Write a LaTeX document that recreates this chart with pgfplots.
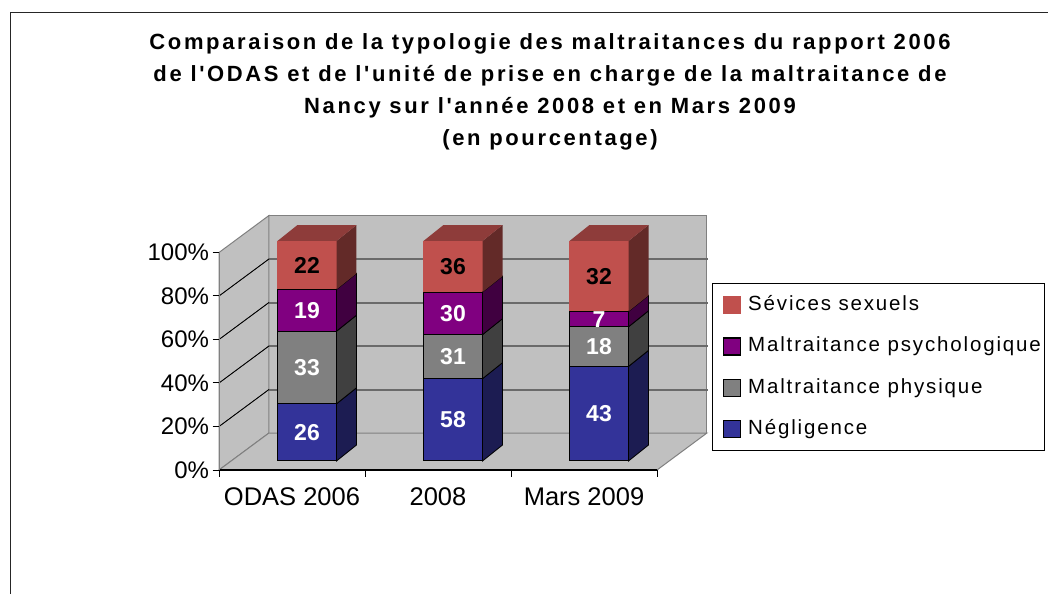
\documentclass[border=0pt]{standalone}
\usepackage{fontspec}
\usepackage{pgfplots}
\pgfplotsset{compat=1.18}
\newfontfamily\lsans{Liberation Sans}
\newfontfamily\lsanstitle{Liberation Sans}[LetterSpace=12]
\newfontfamily\lsansleg{Liberation Sans}[LetterSpace=9]
\definecolor{negF}{HTML}{333399}
\definecolor{negS}{HTML}{1C1C52}
\definecolor{phyF}{HTML}{808080}
\definecolor{phyS}{HTML}{404040}
\definecolor{psyF}{HTML}{800080}
\definecolor{psyS}{HTML}{400040}
\definecolor{sexF}{HTML}{C0504D}
\definecolor{sexS}{HTML}{632A28}
\definecolor{sexT}{HTML}{8E3C3A}
\definecolor{wall}{HTML}{C0C0C0}
\definecolor{wallline}{HTML}{808080}
\definecolor{gridc}{HTML}{6A6A6A}
\pgfplotsset{
  face/.style={forget plot, line width=0.8pt},
  gline/.style={forget plot, fill=gridc, draw=gridc, line width=0.6pt},
  dline/.style={forget plot, fill=black, draw=black, line width=0.5pt},
}
\begin{document}
\begin{tikzpicture}
\path[use as bounding box] (0pt,0pt) rectangle (1048pt,594pt);
\draw[line width=1.3pt, black!85] (10.5pt,0pt) -- (10.5pt,581.5pt) -- (1048pt,581.5pt);
\node[align=center, font=\lsanstitle\bfseries\fontsize{22}{32}\selectfont] at (550pt,502pt)
  {Comparaison de la typologie des maltraitances du rapport 2006\\
   de l'ODAS et de l'unité de prise en charge de la maltraitance de\\
   Nancy sur l'année 2008 et en Mars 2009\\
   (en pourcentage)};

% ---- axis A: walls and floor, wall lines
\begin{axis}[at={(219pt,124pt)}, anchor=south west, scale only axis,
  width=438pt, height=217.5pt,
  xmin=-0.5, xmax=2.5, ymin=0, ymax=100, clip=false, hide axis]
\addplot[fill=wall, draw=wallline, line width=1pt, forget plot] coordinates {(-0.158,17) (2.842,17) (2.842,117) (-0.158,117)} -- cycle;
\addplot[fill=wall, draw=wallline, line width=1pt, forget plot] coordinates {(-0.5,0) (-0.158,17) (-0.158,117) (-0.5,100)} -- cycle;
\addplot[fill=wall, draw=wallline, line width=1pt, forget plot] coordinates {(-0.5,0) (2.5,0) (2.842,17) (-0.158,17)} -- cycle;
% back-wall gridlines
\addplot[gline] coordinates {(-0.158,36.85) (2.842,36.85) (2.842,37.15) (-0.158,37.15)} -- cycle;
\addplot[gline] coordinates {(-0.158,56.85) (2.842,56.85) (2.842,57.15) (-0.158,57.15)} -- cycle;
\addplot[gline] coordinates {(-0.158,76.85) (2.842,76.85) (2.842,77.15) (-0.158,77.15)} -- cycle;
\addplot[gline] coordinates {(-0.158,96.85) (2.842,96.85) (2.842,97.15) (-0.158,97.15)} -- cycle;
% side-wall lines
\addplot[dline] coordinates {(-0.5,19.9) (-0.158,36.9) (-0.158,37.1) (-0.5,20.1)} -- cycle;
\addplot[dline] coordinates {(-0.5,39.9) (-0.158,56.9) (-0.158,57.1) (-0.5,40.1)} -- cycle;
\addplot[dline] coordinates {(-0.5,59.9) (-0.158,76.9) (-0.158,77.1) (-0.5,60.1)} -- cycle;
\addplot[dline] coordinates {(-0.5,79.9) (-0.158,96.9) (-0.158,97.1) (-0.5,80.1)} -- cycle;
\end{axis}

% ---- axis A2: axis lines, ticks
\begin{axis}[at={(219pt,124pt)}, anchor=south west, scale only axis,
  width=438pt, height=217.5pt,
  xmin=-0.5, xmax=2.5, ymin=0, ymax=100, clip=false,
  axis x line*=bottom, axis y line*=left,
  x axis line style={black, line width=1.3pt},
  y axis line style={wallline, line width=1pt},
  tick align=outside, major tick length=6.5pt,
  tick style={black, line width=1pt},
  xtick={-0.5,0.5,1.5,2.5},
  xticklabels={ODAS 2006,2008,Mars 2009,},
  x tick label style={font=\lsans\fontsize{25.5}{25.5}\selectfont, xshift=73pt, yshift=-8pt},
  ytick={0,20,...,100},
  yticklabel={\pgfmathprintnumber{\tick}\%},
  y tick label style={font=\lsans\fontsize{24}{24}\selectfont},
  /pgf/number format/assume math mode=true,
]
\end{axis}

% ---- axis B: stacked bar fronts + legend
\begin{axis}[at={(234pt,133pt)}, anchor=south west, scale only axis,
  width=438pt, height=220pt,
  xmin=-0.5, xmax=2.5, ymin=0, ymax=100, clip=false, hide axis,
  ybar stacked, bar width=59pt,
  reverse legend,
  legend cell align=left,
  legend image code/.code={
    \path[draw=none, fill=none] (0pt,0pt) -- (24pt,0pt);
    \draw[#1, line width=1.4pt] (7pt,-8.5pt) rectangle (24pt,8.5pt);
  },
  legend style={at={(1.0913,0.8091)}, anchor=north west,
    draw=black, line width=1pt, fill=white,
    inner xsep=4pt, inner ysep=12pt,
    row sep=21.8pt, column sep=7pt,
    nodes={inner sep=0pt, text height=15pt, text depth=4.5pt},
    font=\lsansleg\fontsize{20.5}{20.5}\selectfont},
]
\addplot[fill=negF, draw=black, line width=1pt] coordinates {(0,26) (1,37.42) (2,43)};
\addlegendentry{Négligence}
\addplot[fill=phyF, draw=black, line width=1pt] coordinates {(0,33) (1,20.00) (2,18)};
\addlegendentry{Maltraitance physique}
\addplot[fill=psyF, draw=black, line width=1pt] coordinates {(0,19) (1,19.35) (2,7)};
\addlegendentry{Maltraitance psychologique}
\addplot[fill=sexF, draw=sexF, line width=0.5pt] coordinates {(0,22) (1,23.23) (2,32)};
\addlegendentry{Sévices sexuels}
\end{axis}

% ---- axis C: side/top faces and value labels
\begin{axis}[at={(234pt,133pt)}, anchor=south west, scale only axis,
  width=438pt, height=220pt,
  xmin=-0.5, xmax=2.5, ymin=0, ymax=100, clip=false, hide axis]
% ODAS 2006
\addplot[face, fill=negS, draw=black] coordinates {(0.2021,0) (0.339,7.27) (0.339,33.27) (0.2021,26)} -- cycle;
\addplot[face, fill=phyS, draw=black] coordinates {(0.2021,26) (0.339,33.27) (0.339,66.27) (0.2021,59)} -- cycle;
\addplot[face, fill=psyS, draw=black] coordinates {(0.2021,59) (0.339,66.27) (0.339,85.27) (0.2021,78)} -- cycle;
\addplot[face, fill=sexS, draw=none] coordinates {(0.2021,78) (0.339,85.27) (0.339,107.27) (0.2021,100)} -- cycle;
\addplot[face, fill=sexT, draw=none] coordinates {(-0.2021,100) (0.2021,100) (0.339,107.27) (-0.0652,107.27)} -- cycle;
% 2008
\addplot[face, fill=negS, draw=black] coordinates {(1.2021,0) (1.339,7.27) (1.339,44.69) (1.2021,37.42)} -- cycle;
\addplot[face, fill=phyS, draw=black] coordinates {(1.2021,37.42) (1.339,44.69) (1.339,64.69) (1.2021,57.42)} -- cycle;
\addplot[face, fill=psyS, draw=black] coordinates {(1.2021,57.42) (1.339,64.69) (1.339,84.04) (1.2021,76.77)} -- cycle;
\addplot[face, fill=sexS, draw=none] coordinates {(1.2021,76.77) (1.339,84.04) (1.339,107.27) (1.2021,100)} -- cycle;
\addplot[face, fill=sexT, draw=none] coordinates {(0.7979,100) (1.2021,100) (1.339,107.27) (0.9348,107.27)} -- cycle;
% Mars 2009
\addplot[face, fill=negS, draw=black] coordinates {(2.2021,0) (2.339,7.27) (2.339,50.27) (2.2021,43)} -- cycle;
\addplot[face, fill=phyS, draw=black] coordinates {(2.2021,43) (2.339,50.27) (2.339,68.27) (2.2021,61)} -- cycle;
\addplot[face, fill=psyS, draw=black] coordinates {(2.2021,61) (2.339,68.27) (2.339,75.27) (2.2021,68)} -- cycle;
\addplot[face, fill=sexS, draw=none] coordinates {(2.2021,68) (2.339,75.27) (2.339,107.27) (2.2021,100)} -- cycle;
\addplot[face, fill=sexT, draw=none] coordinates {(1.7979,100) (2.2021,100) (2.339,107.27) (1.9348,107.27)} -- cycle;
% value labels
\addplot[draw=none, forget plot, nodes near coords, point meta=explicit symbolic,
  every node near coord/.append style={anchor=center, text=white,
    font=\lsans\bfseries\fontsize{23}{23}\selectfont}]
  table[meta=label] {
x y label
0 13 26
0 42.5 33
0 68.5 19
1 18.71 58
1 47.42 31
1 67.10 30
2 21.5 43
2 52 18
2 64.5 7
};
\addplot[draw=none, forget plot, nodes near coords, point meta=explicit symbolic,
  every node near coord/.append style={anchor=center, text=black,
    font=\lsans\bfseries\fontsize{23}{23}\selectfont}]
  table[meta=label] {
x y label
0 89 22
1 88.39 36
2 84 32
};
\end{axis}
\end{tikzpicture}
\end{document}
